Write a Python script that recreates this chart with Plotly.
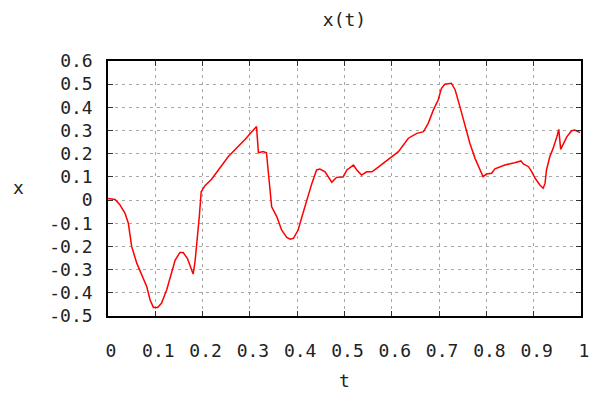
import plotly.graph_objects as go

t_vals = [0.000, 0.015, 0.025, 0.036, 0.043, 0.050, 0.061, 0.071, 0.082, 0.089,
          0.096, 0.105, 0.113, 0.124, 0.135, 0.142, 0.152, 0.159, 0.168, 0.175,
          0.180, 0.184, 0.188, 0.193, 0.197, 0.205, 0.219, 0.254, 0.290, 0.314,
          0.318, 0.328, 0.335, 0.339, 0.342, 0.346, 0.357, 0.367, 0.378, 0.385,
          0.392, 0.402, 0.410, 0.420, 0.431, 0.441, 0.448, 0.459, 0.469, 0.473,
          0.483, 0.497, 0.505, 0.519, 0.526, 0.536, 0.547, 0.558, 0.568, 0.586,
          0.600, 0.614, 0.635, 0.653, 0.667, 0.677, 0.688, 0.698, 0.705, 0.712,
          0.726, 0.734, 0.744, 0.755, 0.765, 0.776, 0.786, 0.793, 0.800, 0.811,
          0.818, 0.839, 0.860, 0.873, 0.878, 0.889, 0.896, 0.903, 0.913, 0.920,
          0.924, 0.927, 0.934, 0.941, 0.949, 0.953, 0.957, 0.963, 0.970, 0.980,
          0.987, 0.998]
x_vals = [0.007, 0.003, -0.020, -0.057, -0.100, -0.200, -0.273, -0.323, -0.374, -0.431,
          -0.463, -0.463, -0.445, -0.388, -0.309, -0.259, -0.226, -0.226, -0.252, -0.287,
          -0.319, -0.266, -0.186, -0.072, 0.036, 0.062, 0.090, 0.187, 0.262, 0.317,
          0.204, 0.209, 0.204, 0.130, 0.047, -0.029, -0.072, -0.129, -0.161, -0.169,
          -0.165, -0.129, -0.072, 0.000, 0.072, 0.130, 0.134, 0.122, 0.087, 0.077,
          0.098, 0.100, 0.130, 0.151, 0.130, 0.108, 0.122, 0.122, 0.137, 0.166,
          0.187, 0.209, 0.267, 0.288, 0.295, 0.331, 0.389, 0.432, 0.482, 0.500,
          0.504, 0.475, 0.403, 0.317, 0.245, 0.180, 0.130, 0.101, 0.113, 0.116,
          0.135, 0.151, 0.161, 0.169, 0.156, 0.144, 0.122, 0.094, 0.065, 0.051,
          0.072, 0.130, 0.187, 0.223, 0.273, 0.305, 0.219, 0.245, 0.273, 0.299,
          0.302, 0.291]

x_tickvals = [0, 0.1, 0.2, 0.3, 0.4, 0.5, 0.6, 0.7, 0.8, 0.9, 1.0]
x_ticktext = ["0", "0.1", "0.2", "0.3", "0.4", "0.5", "0.6", "0.7", "0.8", "0.9", "1"]
y_tickvals = [-0.5, -0.4, -0.3, -0.2, -0.1, 0, 0.1, 0.2, 0.3, 0.4, 0.5, 0.6]
y_ticktext = ["-0.5", "-0.4", "-0.3", "-0.2", "-0.1", "0", "0.1", "0.2", "0.3", "0.4", "0.5", "0.6"]

FONT = "DejaVu Sans Mono"

fig = go.Figure()
fig.add_trace(go.Scatter(x=t_vals, y=x_vals, mode="lines",
                         line=dict(color="#ff0000", width=1.5), showlegend=False))

axis_common = dict(
    showline=True, mirror="allticks", linecolor="black", linewidth=1.5,
    ticks="inside", ticklen=5, tickcolor="#333333", tickwidth=1,
    showgrid=True, gridcolor="#a8a8a8", gridwidth=1, griddash="3px,4px",
    zeroline=False, tickfont=dict(family=FONT, size=18, color="#222222"),
    ticklabeloverflow="allow", automargin=False,
)

fig.update_xaxes(range=[0, 1], tickvals=x_tickvals, ticktext=x_ticktext,
                 ticklabelstandoff=18, ticklabelshift=3, **axis_common)
fig.update_yaxes(range=[-0.5, 0.6], tickvals=y_tickvals, ticktext=y_ticktext,
                 ticklabelstandoff=10, **axis_common)

fig.update_layout(
    width=589, height=393,
    margin=dict(l=108, r=8, t=61, b=77),
    paper_bgcolor="white", plot_bgcolor="white",
    title=dict(text="x(t)", x=0.5, xref="paper", y=1 - 20 / 393, yref="container",
               xanchor="center", yanchor="middle",
               font=dict(family=FONT, size=18, color="#222222")),
    annotations=[
        dict(text="x", xref="paper", yref="paper", x=-0.19, y=0.502,
             showarrow=False, xanchor="center", yanchor="middle",
             font=dict(family=FONT, size=18, color="#222222")),
        dict(text="t", xref="paper", yref="paper", x=0.501, y=-0.251,
             showarrow=False, xanchor="center", yanchor="middle",
             font=dict(family=FONT, size=18, color="#222222")),
    ],
)

fig.write_html("out.html")
